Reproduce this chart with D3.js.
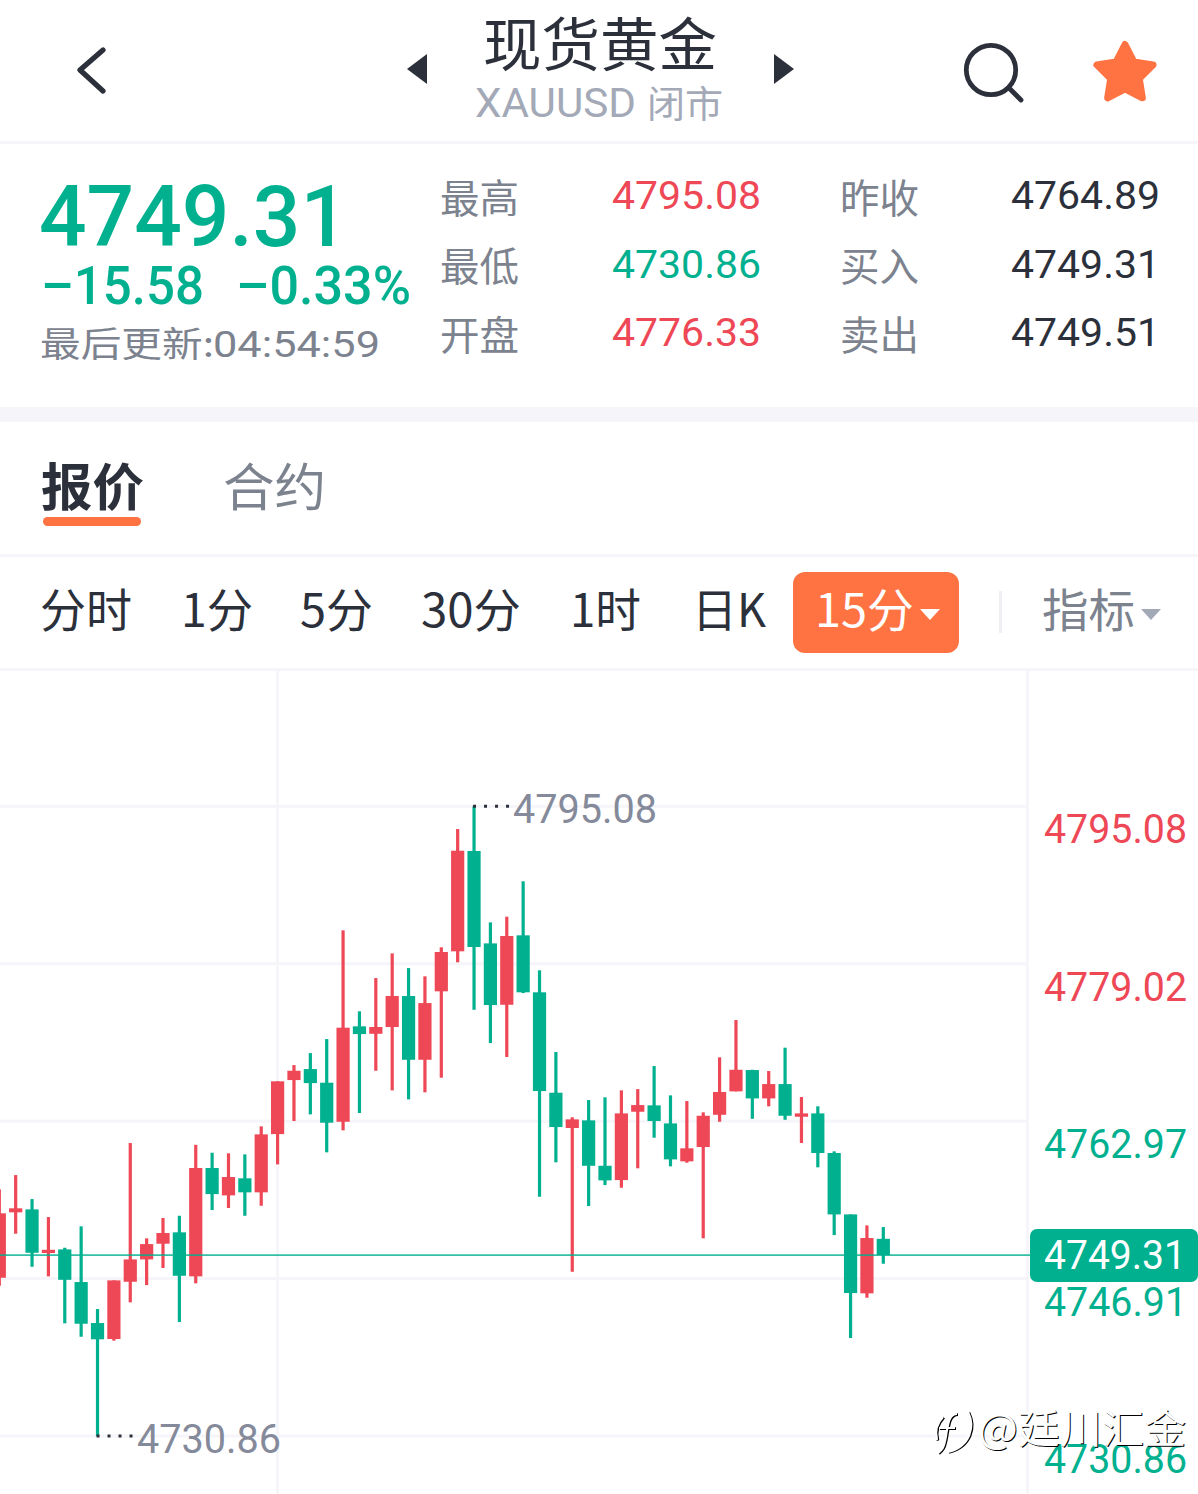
<!DOCTYPE html>
<html><head><meta charset="utf-8">
<script src="https://cdnjs.cloudflare.com/ajax/libs/d3/7.8.5/d3.min.js"></script>
<style>html,body{margin:0;padding:0;background:#fff;overflow:hidden}svg{display:block}</style>
</head><body><svg id="c" width="1198" height="1494"></svg>
<script>
const opens=[4747.00,4753.67,4753.97,4749.52,4749.89,4746.56,4742.38,4740.75,4746.59,4748.87,4750.47,4751.63,4747.14,4758.19,4755.40,4757.14,4755.71,4761.65,4767.16,4768.28,4766.89,4762.91,4772.64,4771.88,4772.57,4775.73,4769.23,4776.21,4780.29,4790.52,4781.10,4774.84,4781.92,4776.11,4765.87,4762.27,4763.05,4758.42,4756.96,4763.93,4764.58,4762.74,4758.87,4760.33,4763.62,4766.01,4768.18,4765.29,4766.75,4763.42,4763.76,4759.72,4753.46,4745.41,4750.97];
const closes=[4753.57,4754.08,4749.55,4749.85,4746.79,4742.31,4740.72,4746.73,4748.87,4750.43,4751.56,4747.20,4758.19,4755.53,4757.27,4755.71,4761.62,4767.03,4768.11,4766.85,4762.81,4772.50,4771.85,4772.57,4775.73,4769.23,4775.01,4780.22,4790.55,4780.73,4774.81,4781.85,4776.11,4766.04,4762.37,4763.15,4758.42,4756.93,4763.76,4764.61,4762.98,4759.07,4760.20,4763.52,4765.94,4768.21,4765.29,4766.75,4763.52,4763.76,4759.72,4753.46,4745.44,4751.05,4749.31];
const highs=[4756.01,4757.47,4755.02,4753.19,4750.06,4752.24,4743.81,4746.73,4760.74,4751.02,4753.09,4753.32,4760.56,4759.75,4759.69,4759.58,4762.44,4767.03,4768.69,4769.91,4771.34,4782.43,4774.17,4777.56,4780.08,4778.58,4777.74,4780.70,4792.76,4795.08,4783.24,4783.82,4787.43,4778.35,4770.02,4763.36,4765.12,4765.40,4766.11,4766.24,4768.59,4765.60,4765.02,4763.87,4769.48,4773.28,4768.21,4768.08,4770.46,4765.43,4764.48,4759.89,4753.46,4752.34,4752.17];
const lows=[4746.18,4751.49,4748.12,4747.14,4742.35,4740.98,4730.86,4740.58,4744.49,4746.25,4747.99,4742.48,4746.43,4753.90,4754.11,4753.32,4754.34,4758.56,4762.98,4763.66,4759.79,4762.03,4763.80,4768.11,4766.11,4765.19,4765.91,4767.40,4779.17,4774.33,4770.93,4769.51,4776.03,4755.26,4758.77,4747.61,4754.31,4756.45,4756.18,4758.16,4761.28,4758.36,4758.73,4751.02,4762.91,4766.01,4763.21,4764.48,4763.11,4760.74,4758.26,4751.35,4740.85,4744.96,4748.43];
const yTicks=[4795.08,4779.02,4762.97,4746.91,4730.86];
const lastPrice=4749.31, prevClose=4764.89;
const intervals=["分时","1分","5分","30分","1时","日K"];
const statsLeftLabels=["最高","最低","开盘"];
const statsLeftValues=["4795.08","4730.86","4776.33"];
const statsRightLabels=["昨收","买入","卖出"];
const statsRightValues=["4764.89","4749.31","4749.51"];

const GREEN="#00b08f",RED="#ee4756",ORANGE="#ff7342",DARK="#2b303b",GRAY="#7c828e",LIGHT="#a3a9b7",MUTED="#858a9b",RULE="#f5f5fa";
const CJK='"Noto Sans CJK SC","Noto Sans",sans-serif', NUM='Roboto,"Noto Sans",sans-serif';
const svg=d3.select("#c");
const x=d3.scaleLinear().domain([0,opens.length-1]).range([-0.7,883.3]);
const y=d3.scaleLinear().domain([4730.86,4795.08]).range([1436,806.3]);

function txt(s,px,py,size,fill,o={}){
  const t=svg.append("text").attr("x",px).attr("y",py).attr("font-size",size).attr("fill",fill)
    .attr("font-family",o.font||NUM).attr("font-weight",o.weight||400).text(s);
  if(o.w){t.attr("textLength",o.w).attr("lengthAdjust","spacingAndGlyphs");}
  if(o.anchor)t.attr("text-anchor",o.anchor);
  return t;
}
function rule(x0,x1,y0,h,c){svg.append("rect").attr("x",x0).attr("y",y0).attr("width",x1-x0).attr("height",h).attr("fill",c||RULE);}

// header
svg.append("path").attr("d",d3.line()([[103,50],[80,70],[103,91]])).attr("fill","none").attr("stroke",DARK).attr("stroke-width",5.2).attr("stroke-linecap","round").attr("stroke-linejoin","round");
svg.append("path").attr("d","M427,54L407,69L427,84Z").attr("fill",DARK);
svg.append("path").attr("d","M774,54L794,69L774,84Z").attr("fill",DARK);
txt("现货黄金",483,66,58,DARK,{font:CJK,weight:400,w:234});
txt("XAUUSD",475,117,40,LIGHT,{font:NUM,w:161});
txt("闭市",647,118,37,LIGHT,{font:CJK,w:76});
svg.append("circle").attr("cx",991).attr("cy",70).attr("r",24.7).attr("fill","none").attr("stroke",DARK).attr("stroke-width",4.8);
svg.append("line").attr("x1",1009).attr("y1",88).attr("x2",1021).attr("y2",100).attr("stroke",DARK).attr("stroke-width",4.8).attr("stroke-linecap","round");
const star=d3.range(10).map(i=>{const r=i%2?15:29.5,a=-Math.PI/2+i*Math.PI/5;return [1125+r*Math.cos(a),74+r*Math.sin(a)];});
svg.append("path").attr("d",d3.line()(star)+"Z").attr("fill",ORANGE).attr("stroke",ORANGE).attr("stroke-width",7).attr("stroke-linejoin","round");
rule(0,1198,141,3);

// quote block
txt("4749.31",39,246,86,GREEN,{weight:500,w:309});
txt("–15.58",41,304,54,GREEN,{weight:500,w:163});
txt("–0.33%",236,304,54,GREEN,{weight:500,w:175});
txt("最后更新:",40,357,35,GRAY,{font:CJK,w:174});
txt("04:54:59",213,357,36,GRAY,{w:167});
[0,1,2].forEach(i=>{
  const b=i*68.5;
  txt(statsLeftLabels[i],440,212.5+b,39.5,GRAY,{font:CJK,w:79});
  txt(statsLeftValues[i],612,209+b,39,i==1?GREEN:RED,{w:149});
  txt(statsRightLabels[i],840,212.5+b,39.5,GRAY,{font:CJK,w:79});
  txt(statsRightValues[i],1011,209+b,39,DARK,{w:149});
});
rule(0,1198,407,15);

// tabs
txt("报价",41,506,51,DARK,{font:CJK,weight:700,w:103});
txt("合约",223,506,51,GRAY,{font:CJK,w:103});
svg.append("rect").attr("x",43).attr("y",517).attr("width",98).attr("height",9).attr("rx",4.5).attr("fill",ORANGE);
rule(0,1198,554,3);

// intervals
const ivX=[[40,92],[181,72],[300,73],[421,100],[570,71],[692,74]];
intervals.forEach((s,i)=>txt(s,ivX[i][0],627,46,DARK,{font:CJK,w:ivX[i][1]}));
svg.append("rect").attr("x",793).attr("y",572).attr("width",166).attr("height",81).attr("rx",12).attr("fill",ORANGE);
txt("15分",815,627,46,"#fff",{font:CJK,w:99});
svg.append("path").attr("d","M920,609H940L930,620Z").attr("fill","#fff");
rule(999,1002,591,42,"#eeeff2");
txt("指标",1042,627,46,GRAY,{font:CJK,w:93});
svg.append("path").attr("d","M1141,609H1161L1151,620Z").attr("fill",LIGHT);
rule(0,1198,668,3);

// grid
const g=svg.append("g");
g.selectAll("rect.h").data(yTicks).join("rect").attr("class","h").attr("x",0).attr("width",1027).attr("height",3)
  .attr("y",d=>y(d)-1.5).attr("fill",RULE);
g.selectAll("rect.v").data([277.5,1027.5]).join("rect").attr("class","v").attr("y",671).attr("height",823).attr("width",3)
  .attr("x",d=>d-1.5).attr("fill",RULE);

// candles
const cs=svg.append("g").selectAll("g").data(opens.map((o,i)=>({i,o,c:closes[i],h:highs[i],l:lows[i]}))).join("g")
  .attr("fill",d=>d.c>=d.o?RED:GREEN);
cs.append("rect").attr("x",d=>x(d.i)-1.6).attr("width",3.2).attr("y",d=>y(d.h)).attr("height",d=>y(d.l)-y(d.h));
cs.append("rect").attr("x",d=>x(d.i)-6.6).attr("width",13.2).attr("y",d=>y(Math.max(d.o,d.c))).attr("height",d=>Math.max(y(Math.min(d.o,d.c))-y(Math.max(d.o,d.c)),1));

// last price line
svg.append("line").attr("x1",0).attr("x2",1031).attr("y1",y(lastPrice)).attr("y2",y(lastPrice)).attr("stroke",GREEN).attr("stroke-opacity",.8).attr("stroke-width",1.8);

// extremes
const hi=d3.max(highs),lo=d3.min(lows),hiI=highs.indexOf(hi),loI=lows.indexOf(lo);
[[hiI,hi,513],[loI,lo,137]].forEach(([i,v,tx])=>{
  svg.append("line").attr("x1",x(i)-1).attr("x2",x(i)+35).attr("y1",y(v)).attr("y2",y(v)).attr("stroke",DARK).attr("stroke-width",3).attr("stroke-dasharray","3 8");
  txt(v.toFixed(2),tx,y(v)+16.5,40,MUTED,{w:144});
});

// y axis labels
yTicks.forEach(v=>txt(v.toFixed(2),1044,y(v)+37,41,v>prevClose?RED:GREEN,{w:143}));

// last price tag
svg.append("rect").attr("x",1030).attr("y",1229).attr("width",168).attr("height",53).attr("rx",7).attr("fill",GREEN);
txt(lastPrice.toFixed(2),1044,1269,41,"#fff",{w:142});

// watermark
const logo="M957,1414C949,1414 948,1424 946,1436C944,1448 942,1450 938,1453M939,1428H955M968,1412C975,1426 971,1446 948,1452M943,1417C936,1424 935,1432 937,1440";
[["#000",1,.6,1.6],["#fff",0,0,1.2]].forEach(([c,dx,dy,sw])=>{
  svg.append("path").attr("d",logo).attr("fill","none").attr("stroke",c).attr("stroke-width",sw+1).attr("transform",`translate(${dx},${dy})`);
  txt("@廷川汇金",978+dx,1443+dy,40,c,{font:CJK,w:208});
});
</script></body></html>
